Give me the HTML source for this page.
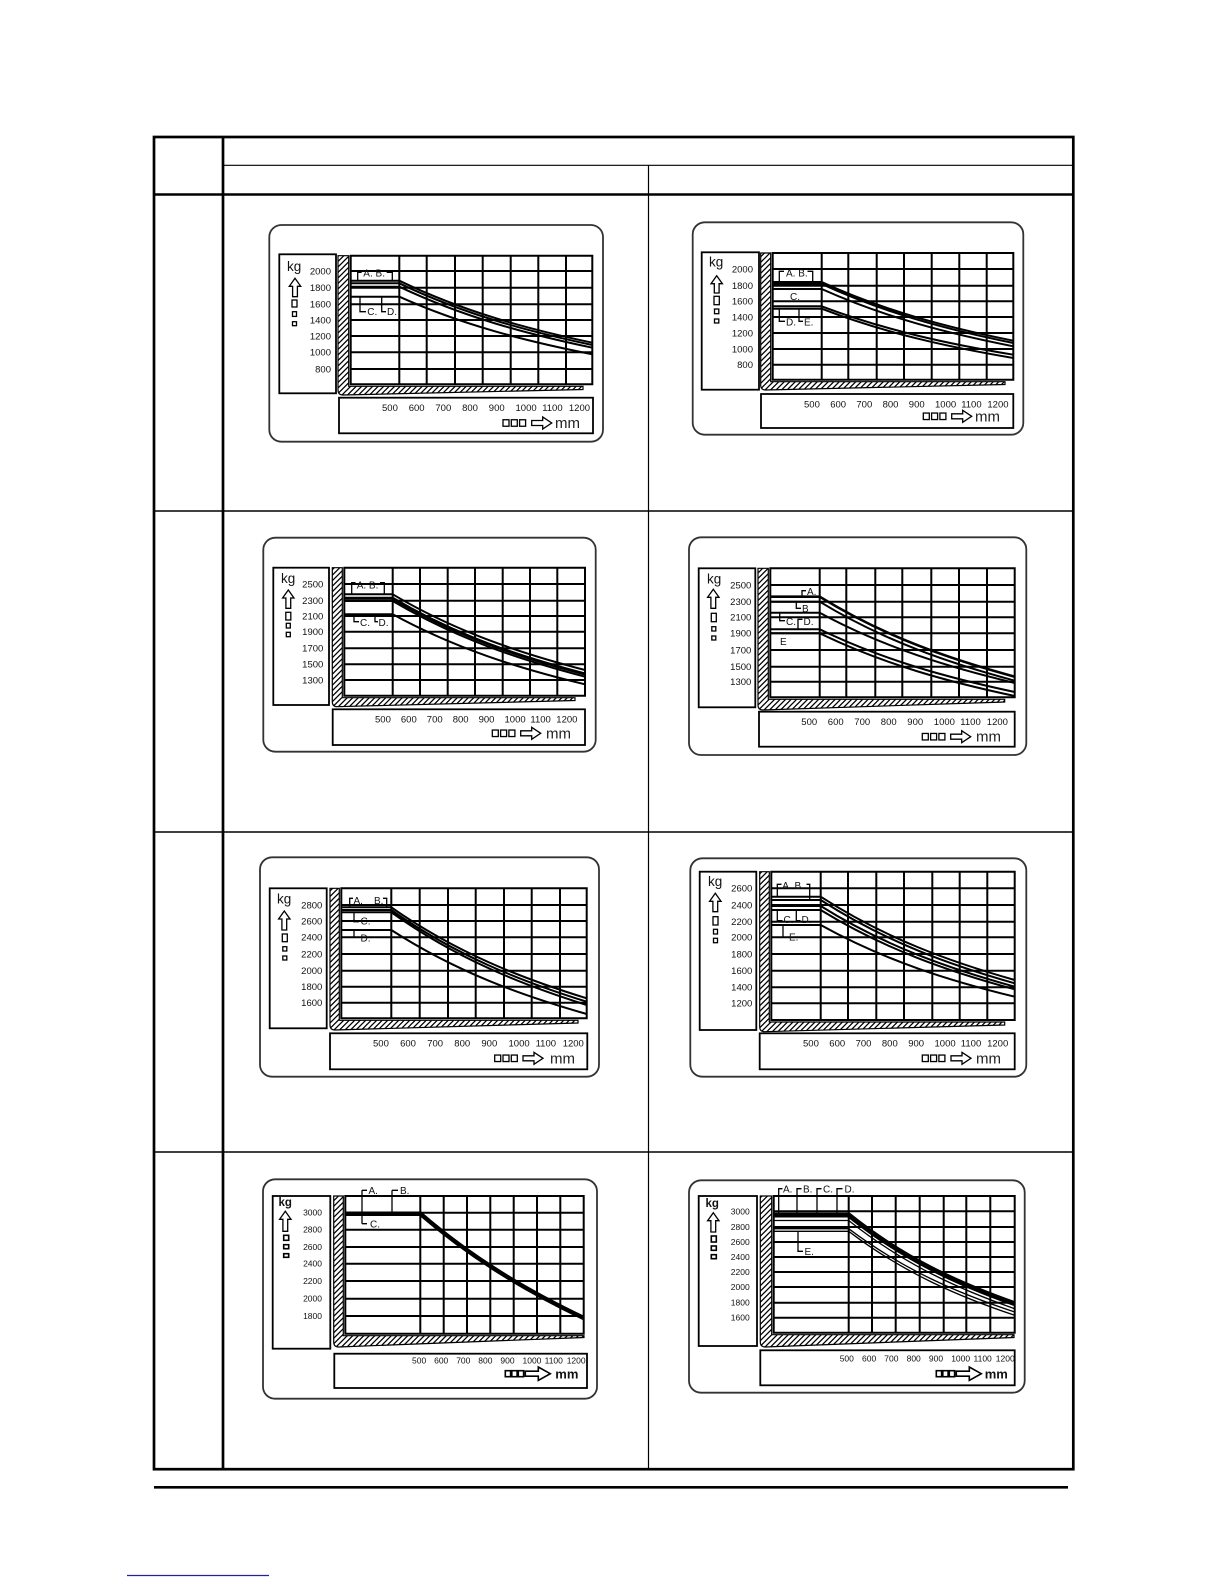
<!DOCTYPE html>
<html><head><meta charset="utf-8"><style>
html,body{margin:0;padding:0;background:#fff}
svg{display:block}
text{font-family:"Liberation Sans",Arial,sans-serif;fill:#111}
.g{stroke:#000;stroke-width:2;fill:none;stroke-linecap:square}
.c{stroke:#000;stroke-width:2;fill:none}
.b{stroke:#000;stroke-width:1.8;fill:none}
.o{stroke:#333;stroke-width:1.8;fill:none}
.a{stroke:#000;stroke-width:1.3;fill:#fff}
.k{stroke:#000;stroke-width:1.3;fill:none}
.y{font-size:9.5px}
.y2{font-size:8.5px;fill:#444}
.x{font-size:9.5px}
.x2{font-size:8.5px;fill:#333}
.l{font-size:10px}
.kg{font-size:13.5px}
.kgb{font-size:11.5px;font-weight:bold}
.mm{font-size:15px;fill:#222}
.mmb{font-size:13px;font-weight:bold}
.h{fill:url(#hp);stroke:#000;stroke-width:1.2}
</style></head><body>
<svg width="1224" height="1584" viewBox="0 0 1224 1584" xmlns="http://www.w3.org/2000/svg">
<defs>
<pattern id="hp" patternUnits="userSpaceOnUse" width="5.5" height="5.5">
<path d="M0 5.5L5.5 0M-1 1L1 -1M4.5 6.5L6.5 4.5" stroke="#000" stroke-width="1.3"/>
</pattern>
</defs>
<rect width="1224" height="1584" fill="#fff"/>

<!-- TABLE -->
<rect x="154" y="137" width="919.3" height="1332.2" fill="none" stroke="#000" stroke-width="2.7"/>
<line x1="223" y1="137" x2="223" y2="1469.2" stroke="#000" stroke-width="2.7"/>
<line x1="223" y1="165.3" x2="1073.3" y2="165.3" stroke="#000" stroke-width="1.2"/>
<line x1="154" y1="194.5" x2="1073.3" y2="194.5" stroke="#000" stroke-width="2.6"/>
<line x1="648.5" y1="165.3" x2="648.5" y2="1469.2" stroke="#000" stroke-width="1.2"/>
<line x1="154" y1="511" x2="1073.3" y2="511" stroke="#000" stroke-width="1.5"/>
<line x1="154" y1="832" x2="1073.3" y2="832" stroke="#000" stroke-width="1.5"/>
<line x1="154" y1="1152" x2="1073.3" y2="1152" stroke="#000" stroke-width="1.5"/>
<line x1="154" y1="1487.3" x2="1068" y2="1487.3" stroke="#000" stroke-width="2.7"/>
<line x1="127" y1="1575.5" x2="269" y2="1575.5" stroke="#22229a" stroke-width="1.2"/>

<!-- CHART 1 -->
<rect class="o" x="269.3" y="225" width="333.7" height="216.7" rx="12"/>
<rect class="b" x="279.3" y="254.3" width="56.7" height="139"/>
<rect class="b" x="339" y="397.7" width="254" height="35.6"/>
<path class="h" d="M338 255.7V390Q338 395 343 395L583 389.5V386.3H348.7V255.7Z"/>
<path class="g" d="M350.7 255.7V384.3M399.3 255.7V384.3M426.7 255.7V384.3M455 255.7V384.3M482.7 255.7V384.3M510.7 255.7V384.3M538.3 255.7V384.3M566 255.7V384.3M592.3 255.7V384.3M350.7 255.7H592.3M350.7 271H592.3M350.7 287.7H592.3M350.7 304.3H592.3M350.7 320H592.3M350.7 336H592.3M350.7 352.3H592.3M350.7 369H592.3M350.7 384.3H592.3"/>
<path class="c" d="M350.7 280.7H399.3C463.6 311.7 528 329.1 592.3 342.7M350.7 283.3H399.3C463.6 314.2 528 331.4 592.3 345M350.7 286.7H399.3C463.6 317.2 528 334.3 592.3 347.7M350.7 296.7H399.3C463.6 325.5 528 341.6 592.3 354.3"/>
<path class="k" d="M357.7 281V272.3H361.7M386.7 272.3H392.3V281M360 296.7V311.7H366M381.7 296.7V311.7H386"/>
<text class="l" x="363.3" y="276.5">A. B.</text><text class="l" x="367.3" y="315">C.</text><text class="l" x="387" y="315">D.</text>
<text class="kg" x="287" y="271">kg</text>
<path class="a" d="M295 278.3L300.7 286.3H297.4V296.7H292.6V286.3H289.3Z"/>
<rect class="a" x="292" y="300" width="5" height="7"/><rect class="a" x="292.5" y="311.7" width="4" height="4.7"/><rect class="a" x="292.5" y="321.7" width="4" height="4"/>
<g class="y" text-anchor="end"><text x="331" y="274.4">2000</text><text x="331" y="291.1">1800</text><text x="331" y="307.7">1600</text><text x="331" y="323.4">1400</text><text x="331" y="339.4">1200</text><text x="331" y="355.7">1000</text><text x="331" y="372.4">800</text></g>
<g class="x"><text x="382" y="411.1">500</text><text x="408.7" y="411.1">600</text><text x="435.4" y="411.1">700</text><text x="462.1" y="411.1">800</text><text x="488.8" y="411.1">900</text><text x="515.5" y="411.1">1000</text><text x="542.2" y="411.1">1100</text><text x="568.9" y="411.1">1200</text></g>
<rect class="a" x="503" y="419.75" width="6" height="6.5"/><rect class="a" x="511.3" y="419.75" width="6" height="6.5"/><rect class="a" x="519.6" y="419.75" width="6" height="6.5"/>
<path class="a" d="M531.7 420.5H542.7V417L551.7 423L542.7 429V425.5H531.7Z"/>
<text class="mm" x="555" y="428">mm</text>

<!-- CHART 2 -->
<rect class="o" x="692.7" y="222.3" width="330.6" height="212.4" rx="12"/>
<rect class="b" x="701.7" y="252.3" width="57.3" height="137.4"/>
<rect class="b" x="761" y="394" width="252.3" height="34"/>
<path class="h" d="M760.7 253V385Q760.7 390 765.7 390L1005 384.5V381.7H770.7V253Z"/>
<path class="g" d="M772.7 253V379.7M821.7 253V379.7M848.3 253V379.7M876.7 253V379.7M904 253V379.7M931.7 253V379.7M959.3 253V379.7M986.7 253V379.7M1013.3 253V379.7M772.7 253H1013.3M772.7 269H1013.3M772.7 285.7H1013.3M772.7 301.3H1013.3M772.7 317H1013.3M772.7 333H1013.3M772.7 349H1013.3M772.7 364.7H1013.3M772.7 379.7H1013.3"/>
<path class="c" d="M772.7 282H821.7C885.6 311.4 949.4 327.8 1013.3 340.7M772.7 284H821.7C885.6 313.5 949.4 330 1013.3 343M772.7 289H821.7C885.6 317.7 949.4 333.7 1013.3 346.3M772.7 306.3H821.7C885.6 330.5 949.4 344.1 1013.3 354.7M772.7 308.7H821.7C885.6 333.4 949.4 347.2 1013.3 358"/>
<path class="k" d="M779.3 282V271.3H784M807.5 271.3H812.7V282M779.3 308.7V321.3H785M799 308.7V321.3H803"/>
<text class="l" x="786" y="276.5">A. B.</text><text class="l" x="790" y="300">C.</text><text class="l" x="786" y="325.5">D.</text><text class="l" x="804" y="325.5">E.</text>
<text class="kg" x="709" y="266.5">kg</text>
<path class="a" d="M716.7 275.7L722.4 283.7H719.1V293H714.3V283.7H711Z"/>
<rect class="a" x="714" y="296.3" width="5.3" height="8.4"/><rect class="a" x="714.5" y="309" width="4.3" height="4.7"/><rect class="a" x="714.5" y="319" width="4.3" height="4"/>
<g class="y" text-anchor="end"><text x="753" y="272.4">2000</text><text x="753" y="289.1">1800</text><text x="753" y="304.7">1600</text><text x="753" y="320.4">1400</text><text x="753" y="336.4">1200</text><text x="753" y="352.4">1000</text><text x="753" y="368.1">800</text></g>
<g class="x"><text x="804" y="407.4">500</text><text x="830.2" y="407.4">600</text><text x="856.4" y="407.4">700</text><text x="882.6" y="407.4">800</text><text x="908.8" y="407.4">900</text><text x="935" y="407.4">1000</text><text x="961.2" y="407.4">1100</text><text x="987.4" y="407.4">1200</text></g>
<rect class="a" x="923.3" y="413.05" width="6" height="6.5"/><rect class="a" x="931.6" y="413.05" width="6" height="6.5"/><rect class="a" x="939.9" y="413.05" width="6" height="6.5"/>
<path class="a" d="M951.7 413.8H962.7V410.3L971.7 416.3L962.7 422.3V418.8H951.7Z"/>
<text class="mm" x="975" y="421.3">mm</text>

<!-- CHART 3 -->
<rect class="o" x="263.3" y="537.7" width="332.4" height="214" rx="12"/>
<rect class="b" x="273.3" y="567.7" width="55.7" height="137.3"/>
<rect class="b" x="332.7" y="709.3" width="252.3" height="35.7"/>
<path class="h" d="M332.3 567.7V701.7Q332.3 706.7 337.3 706.7L575 700.5V697.7H342.3V567.7Z"/>
<path class="g" d="M344.3 567.7V695.7M392.7 567.7V695.7M420 567.7V695.7M447.7 567.7V695.7M475 567.7V695.7M502.7 567.7V695.7M530 567.7V695.7M557.3 567.7V695.7M585 567.7V695.7M344.3 567.7H585M344.3 584H585M344.3 600.7H585M344.3 616H585M344.3 631.7H585M344.3 648.3H585M344.3 664.3H585M344.3 680H585M344.3 695.7H585"/>
<path class="c" d="M344.3 594.3H392.7C456.8 632.2 520.9 653.3 585 670M344.3 601H392.7C456.8 638.9 520.9 660 585 676.7M344.3 614.3H392.7C456.8 649.3 520.9 668.9 585 684.3"/>
<path class="c" style="stroke-width:3" d="M344.3 598.3H392.7C456.8 636.2 520.9 657.3 585 674"/>
<path class="k" d="M351.7 594.3V582.7H355.5M380 582.7H384.3V594.3M354 614.3V621.7H359M375 614.3V621.7H378"/>
<text class="l" x="356.7" y="588.5">A. B.</text><text class="l" x="360" y="626">C.</text><text class="l" x="378.5" y="626">D.</text>
<text class="kg" x="281" y="583">kg</text>
<path class="a" d="M288.3 590L294 598H290.7V608.3H285.9V598H282.6Z"/>
<rect class="a" x="285.8" y="612.3" width="5" height="7.7"/><rect class="a" x="286.3" y="623.3" width="4" height="4.7"/><rect class="a" x="286.3" y="632.3" width="4" height="4.4"/>
<g class="y" text-anchor="end"><text x="323.3" y="587.4">2500</text><text x="323.3" y="604.1">2300</text><text x="323.3" y="619.4">2100</text><text x="323.3" y="635.1">1900</text><text x="323.3" y="651.7">1700</text><text x="323.3" y="667.7">1500</text><text x="323.3" y="683.4">1300</text></g>
<g class="x"><text x="375" y="722.7">500</text><text x="400.9" y="722.7">600</text><text x="426.8" y="722.7">700</text><text x="452.7" y="722.7">800</text><text x="478.6" y="722.7">900</text><text x="504.5" y="722.7">1000</text><text x="530.4" y="722.7">1100</text><text x="556.3" y="722.7">1200</text></g>
<rect class="a" x="492.3" y="730.05" width="6" height="6.5"/><rect class="a" x="500.6" y="730.05" width="6" height="6.5"/><rect class="a" x="508.9" y="730.05" width="6" height="6.5"/>
<path class="a" d="M520.7 730.8H531.7V727.3L540.7 733.3L531.7 739.3V735.8H520.7Z"/>
<text class="mm" x="546" y="738.3">mm</text>

<!-- CHART 4 -->
<rect class="o" x="689" y="537.3" width="337.3" height="217.7" rx="12"/>
<rect class="b" x="698.7" y="568.3" width="56.6" height="139"/>
<rect class="b" x="759" y="711.7" width="255.7" height="35"/>
<path class="h" d="M758 568.3V705Q758 710 763 710L1004.7 702V699.3H768.3V568.3Z"/>
<path class="g" d="M770.3 568.3V697.3M819.7 568.3V697.3M846.3 568.3V697.3M875.3 568.3V697.3M902.3 568.3V697.3M931.3 568.3V697.3M959 568.3V697.3M987 568.3V697.3M1014.7 568.3V697.3M770.3 568.3H1014.7M770.3 585H1014.7M770.3 601.7H1014.7M770.3 617.3H1014.7M770.3 633.3H1014.7M770.3 650H1014.7M770.3 666.7H1014.7M770.3 681.7H1014.7M770.3 697.3H1014.7"/>
<path class="c" d="M770.3 601.7H819.7C884.7 641.2 949.7 663.3 1014.7 680.7M770.3 612.7H819.7C884.7 647.9 949.7 667.5 1014.7 683M770.3 629.3H819.7C884.7 660.7 949.7 678.2 1014.7 692M770.3 633.3H819.7C884.7 664.7 949.7 682.2 1014.7 696"/>
<path class="c" style="stroke-width:2.6" d="M770.3 596.7H819.7C884.7 636.7 949.7 659.1 1014.7 676.7"/>
<path class="k" d="M802 596.7V590.7H806M796.3 601.7V608.3H801M779.7 612.7V620.7H785M798 629.3V619.3H802.5"/>
<text class="l" x="807" y="595">A.</text><text class="l" x="802" y="612">B</text><text class="l" x="786" y="625">C.</text><text class="l" x="803.5" y="625">D.</text><text class="l" x="780" y="645">E</text>
<text class="kg" x="707" y="583.3">kg</text>
<path class="a" d="M713.3 589.3L719 597.3H715.7V608.3H710.9V597.3H707.6Z"/>
<rect class="a" x="711.3" y="613.3" width="5" height="8.4"/><rect class="a" x="711.8" y="626.7" width="4" height="4.3"/><rect class="a" x="711.8" y="636" width="4" height="4"/>
<g class="y" text-anchor="end"><text x="751.3" y="588.4">2500</text><text x="751.3" y="605.1">2300</text><text x="751.3" y="620.7">2100</text><text x="751.3" y="636.7">1900</text><text x="751.3" y="653.4">1700</text><text x="751.3" y="670.1">1500</text><text x="751.3" y="685.1">1300</text></g>
<g class="x"><text x="801.3" y="725.1">500</text><text x="827.8" y="725.1">600</text><text x="854.3" y="725.1">700</text><text x="880.8" y="725.1">800</text><text x="907.3" y="725.1">900</text><text x="933.8" y="725.1">1000</text><text x="960.3" y="725.1">1100</text><text x="986.8" y="725.1">1200</text></g>
<rect class="a" x="922.3" y="733.45" width="6" height="6.5"/><rect class="a" x="930.6" y="733.45" width="6" height="6.5"/><rect class="a" x="938.9" y="733.45" width="6" height="6.5"/>
<path class="a" d="M950.7 734.2H961.7V730.7L970.7 736.7L961.7 742.7V739.2H950.7Z"/>
<text class="mm" x="976" y="741.7">mm</text>

<!-- CHART 5 -->
<rect class="o" x="260" y="857.3" width="339" height="219.4" rx="12"/>
<rect class="b" x="269.7" y="888.3" width="57" height="140"/>
<rect class="b" x="330" y="1033.3" width="257.3" height="36"/>
<path class="h" d="M330 888.3V1025Q330 1030 335 1030L578 1023V1020.3H339.3V888.3Z"/>
<path class="g" d="M341.3 888.3V1018.3M391.3 888.3V1018.3M419.7 888.3V1018.3M448 888.3V1018.3M475.7 888.3V1018.3M504 888.3V1018.3M531.7 888.3V1018.3M560 888.3V1018.3M586.7 888.3V1018.3M341.3 888.3H586.7M341.3 905H586.7M341.3 921H586.7M341.3 937.3H586.7M341.3 954H586.7M341.3 970.7H586.7M341.3 986.7H586.7M341.3 1002.7H586.7M341.3 1018.3H586.7"/>
<path class="c" d="M341.3 907.3H391.3C456.4 952.8 521.6 978.3 586.7 998.3M341.3 910H391.3C456.4 955.9 521.6 981.5 586.7 1001.7M341.3 912.3H391.3C456.4 958.7 521.6 984.6 586.7 1005M341.3 930H391.3C456.4 972 521.6 995.5 586.7 1014"/>
<path class="k" d="M349.7 907.3V898.3H353M383 898.3H386.7V907.3M354 912.3V921.7H359M354 930V937.3H359"/>
<text class="l" x="353.5" y="904">A.</text><text class="l" x="374" y="904">B.</text><text class="l" x="360.5" y="924.5">C.</text><text class="l" x="360.5" y="941.5">D.</text>
<text class="kg" x="277" y="903.3">kg</text>
<path class="a" d="M284.3 911L290 919H286.7V930H281.9V919H278.6Z"/>
<rect class="a" x="282.3" y="934" width="5" height="7.7"/><rect class="a" x="282.8" y="946.7" width="4" height="4.3"/><rect class="a" x="282.8" y="956" width="4" height="4"/>
<g class="y" text-anchor="end"><text x="322.3" y="908.4">2800</text><text x="322.3" y="924.4">2600</text><text x="322.3" y="940.7">2400</text><text x="322.3" y="957.4">2200</text><text x="322.3" y="974.1">2000</text><text x="322.3" y="990.1">1800</text><text x="322.3" y="1006.1">1600</text></g>
<g class="x"><text x="373" y="1046.7">500</text><text x="400.1" y="1046.7">600</text><text x="427.2" y="1046.7">700</text><text x="454.3" y="1046.7">800</text><text x="481.4" y="1046.7">900</text><text x="508.5" y="1046.7">1000</text><text x="535.6" y="1046.7">1100</text><text x="562.7" y="1046.7">1200</text></g>
<rect class="a" x="494.7" y="1055.05" width="6" height="6.5"/><rect class="a" x="503" y="1055.05" width="6" height="6.5"/><rect class="a" x="511.3" y="1055.05" width="6" height="6.5"/>
<path class="a" d="M523 1055.8H534V1052.3L543 1058.3L534 1064.3V1060.8H523Z"/>
<text class="mm" x="550" y="1063.3">mm</text>

<!-- CHART 6 -->
<rect class="o" x="690.3" y="858.3" width="336" height="218.4" rx="12"/>
<rect class="b" x="699.7" y="871.7" width="56.6" height="158.3"/>
<rect class="b" x="759.7" y="1033.3" width="255" height="36"/>
<path class="h" d="M759.7 871.7V1026.7Q759.7 1031.7 764.7 1031.7L1004.7 1025V1022H769.3V871.7Z"/>
<path class="g" d="M771.3 871.7V1020M820.7 871.7V1020M848 871.7V1020M876.3 871.7V1020M904 871.7V1020M932.3 871.7V1020M959.7 871.7V1020M987.3 871.7V1020M1014.7 871.7V1020M771.3 871.7H1014.7M771.3 888.3H1014.7M771.3 905H1014.7M771.3 921.7H1014.7M771.3 937.3H1014.7M771.3 954H1014.7M771.3 970.7H1014.7M771.3 987.3H1014.7M771.3 1003.3H1014.7M771.3 1020H1014.7"/>
<path class="c" d="M771.3 896.7H820.7C885.4 938.4 950 961.7 1014.7 980M771.3 900H820.7C885.4 941.7 950 965 1014.7 983.3M771.3 906H820.7C885.4 946.4 950 968.9 1014.7 986.7M771.3 910H820.7C885.4 949.7 950 971.9 1014.7 989.3M771.3 925H820.7C885.4 960.9 950 980.9 1014.7 996.7"/>
<path class="k" d="M777.3 896.7V884.3H781.5M806.5 884.3H809.7V900M777.3 910V920.7H782.5M796.3 910V920.7H800.5M783 925V937.3H788"/>
<text class="l" x="782.3" y="889">A. B.</text><text class="l" x="783.5" y="923">C.</text><text class="l" x="801.5" y="923">D.</text><text class="l" x="789" y="940.5">E.</text>
<text class="kg" x="708" y="886">kg</text>
<path class="a" d="M715.3 893.3L721 901.3H717.7V911.7H712.9V901.3H709.6Z"/>
<rect class="a" x="713" y="916.7" width="5" height="8.3"/><rect class="a" x="713.5" y="929.3" width="4" height="4.7"/><rect class="a" x="713.5" y="938.3" width="4" height="4.4"/>
<g class="y" text-anchor="end"><text x="752.3" y="891.7">2600</text><text x="752.3" y="908.4">2400</text><text x="752.3" y="925.1">2200</text><text x="752.3" y="940.7">2000</text><text x="752.3" y="957.4">1800</text><text x="752.3" y="974.1">1600</text><text x="752.3" y="990.7">1400</text><text x="752.3" y="1006.7">1200</text></g>
<g class="x"><text x="803" y="1046.7">500</text><text x="829.3" y="1046.7">600</text><text x="855.6" y="1046.7">700</text><text x="881.9" y="1046.7">800</text><text x="908.2" y="1046.7">900</text><text x="934.5" y="1046.7">1000</text><text x="960.8" y="1046.7">1100</text><text x="987.1" y="1046.7">1200</text></g>
<rect class="a" x="922.3" y="1055.05" width="6" height="6.5"/><rect class="a" x="930.6" y="1055.05" width="6" height="6.5"/><rect class="a" x="938.9" y="1055.05" width="6" height="6.5"/>
<path class="a" d="M951 1055.8H962V1052.3L971 1058.3L962 1064.3V1060.8H951Z"/>
<text class="mm" x="976" y="1063.3">mm</text>

<!-- CHART 7 -->
<rect class="o" x="263" y="1179.3" width="334" height="219.4" rx="12"/>
<rect class="b" x="272.7" y="1196" width="57.6" height="152.7"/>
<rect class="b" x="334.3" y="1353.7" width="252.7" height="34.3"/>
<path class="h" d="M333.7 1196V1342Q333.7 1347 338.7 1347L584 1337.5V1335.7H343.3V1196Z"/>
<path class="g" d="M345.3 1196V1333.7M420.3 1196V1333.7M443.7 1196V1333.7M467 1196V1333.7M490.3 1196V1333.7M513.7 1196V1333.7M537 1196V1333.7M560.3 1196V1333.7M583.7 1196V1333.7M345.3 1196H583.7M345.3 1212.7H583.7M345.3 1229.7H583.7M345.3 1247H583.7M345.3 1263.7H583.7M345.3 1281H583.7M345.3 1298.7H583.7M345.3 1316H583.7M345.3 1333.7H583.7"/>
<path class="c" style="stroke-width:4.5" d="M345.3 1213.7H420.3C474.8 1260.6 529.2 1291.9 583.7 1318"/>
<path class="k" d="M362 1190.3V1223.7M362 1190.3H367M362 1223.7H367M392 1190.3V1212.7M392 1190.3H398"/>
<text class="l" x="368.5" y="1194">A.</text><text class="l" x="370" y="1227.5">C.</text><text class="l" x="400" y="1194">B.</text>
<text class="kgb" x="278.5" y="1206">kg</text>
<path class="a" d="M285.3 1211.3L291 1219.3H287.7V1231.3H282.9V1219.3H279.6Z"/>
<rect class="a" style="stroke-width:1.6" x="283.7" y="1235.3" width="5" height="5"/><rect class="a" style="stroke-width:1.6" x="283.7" y="1244.7" width="5" height="4"/><rect class="a" style="stroke-width:1.6" x="283.7" y="1253.7" width="5" height="3.6"/>
<g class="y2" text-anchor="end"><text x="322" y="1215.7">3000</text><text x="322" y="1232.7">2800</text><text x="322" y="1250">2600</text><text x="322" y="1266.7">2400</text><text x="322" y="1284">2200</text><text x="322" y="1301.7">2000</text><text x="322" y="1319">1800</text></g>
<g class="x2"><text x="412" y="1363.3">500</text><text x="434.1" y="1363.3">600</text><text x="456.2" y="1363.3">700</text><text x="478.3" y="1363.3">800</text><text x="500.4" y="1363.3">900</text><text x="522.5" y="1363.3">1000</text><text x="544.6" y="1363.3">1100</text><text x="566.7" y="1363.3">1200</text></g>
<rect class="a" style="stroke-width:1.6" x="505.3" y="1370.7" width="5.3" height="6"/><rect class="a" style="stroke-width:1.6" x="511.8" y="1370.7" width="5.3" height="6"/><rect class="a" style="stroke-width:1.6" x="518.3" y="1370.7" width="5.3" height="6"/>
<path class="a" style="stroke-width:1.6" d="M525.3 1371.2H538.3V1367L550.3 1373.7L538.3 1380.4V1376.2H525.3Z"/>
<text class="mmb" x="555.3" y="1378.5">mm</text>

<!-- CHART 8 -->
<rect class="o" x="689" y="1180.3" width="335.7" height="212.4" rx="12"/>
<rect class="b" x="698.7" y="1196" width="58.3" height="150"/>
<rect class="b" x="760.3" y="1350.3" width="254.4" height="35"/>
<path class="h" d="M760.3 1196V1342Q760.3 1347 765.3 1347L1014 1337.5V1334.7H771.7V1196Z"/>
<path class="g" d="M773.7 1196V1332.7M848.7 1196V1332.7M872 1196V1332.7M895.7 1196V1332.7M919.7 1196V1332.7M943.7 1196V1332.7M966.3 1196V1332.7M990.3 1196V1332.7M1014.7 1196V1332.7M773.7 1196H1014.7M773.7 1211.3H1014.7M773.7 1227H1014.7M773.7 1242H1014.7M773.7 1257H1014.7M773.7 1272H1014.7M773.7 1287H1014.7M773.7 1302.7H1014.7M773.7 1317.7H1014.7M773.7 1332.7H1014.7"/>
<path class="c" style="stroke-width:5" d="M773.7 1215H848.7C904 1259.4 959.4 1284.2 1014.7 1303.7"/>
<path class="c" style="stroke-width:1.3" d="M773.7 1220.5H848.7C904 1264.6 959.4 1289.3 1014.7 1308.7M773.7 1228.7H848.7C904 1270.4 959.4 1293.7 1014.7 1312M773.7 1231.3H848.7C904 1273.3 959.4 1296.8 1014.7 1315.3"/>
<path class="k" d="M778.7 1212.7V1188.7H782.5M797 1212.7V1188.7H801.5M817 1212.7V1188.7H821.5M837 1212.7V1188.7H842.5M798 1231.3V1251.3H803"/>
<text class="l" x="783" y="1192.5">A.</text><text class="l" x="803" y="1192.5">B.</text><text class="l" x="823" y="1192.5">C.</text><text class="l" x="844.5" y="1192.5">D.</text><text class="l" x="804.5" y="1255">E.</text>
<text class="kgb" x="705.5" y="1207">kg</text>
<path class="a" d="M713.3 1212.7L719 1220.7H715.7V1232H710.9V1220.7H707.6Z"/>
<rect class="a" style="stroke-width:1.6" x="711.3" y="1236" width="5" height="6"/><rect class="a" style="stroke-width:1.6" x="711.3" y="1246" width="5" height="4.3"/><rect class="a" style="stroke-width:1.6" x="711.3" y="1254.7" width="5" height="4"/>
<g class="y2" text-anchor="end"><text x="749.7" y="1214.3">3000</text><text x="749.7" y="1230">2800</text><text x="749.7" y="1245">2600</text><text x="749.7" y="1260">2400</text><text x="749.7" y="1275">2200</text><text x="749.7" y="1290">2000</text><text x="749.7" y="1305.7">1800</text><text x="749.7" y="1320.7">1600</text></g>
<g class="x2"><text x="839.7" y="1361.7">500</text><text x="862" y="1361.7">600</text><text x="884.3" y="1361.7">700</text><text x="906.6" y="1361.7">800</text><text x="928.9" y="1361.7">900</text><text x="951.2" y="1361.7">1000</text><text x="973.5" y="1361.7">1100</text><text x="995.8" y="1361.7">1200</text></g>
<rect class="a" style="stroke-width:1.6" x="936.3" y="1370.7" width="5.3" height="6"/><rect class="a" style="stroke-width:1.6" x="942.8" y="1370.7" width="5.3" height="6"/><rect class="a" style="stroke-width:1.6" x="949.3" y="1370.7" width="5.3" height="6"/>
<path class="a" style="stroke-width:1.6" d="M956.3 1371.2H969.3V1367L981.3 1373.7L969.3 1380.4V1376.2H956.3Z"/>
<text class="mmb" x="984.7" y="1378.5">mm</text>
</svg>
</body></html>
